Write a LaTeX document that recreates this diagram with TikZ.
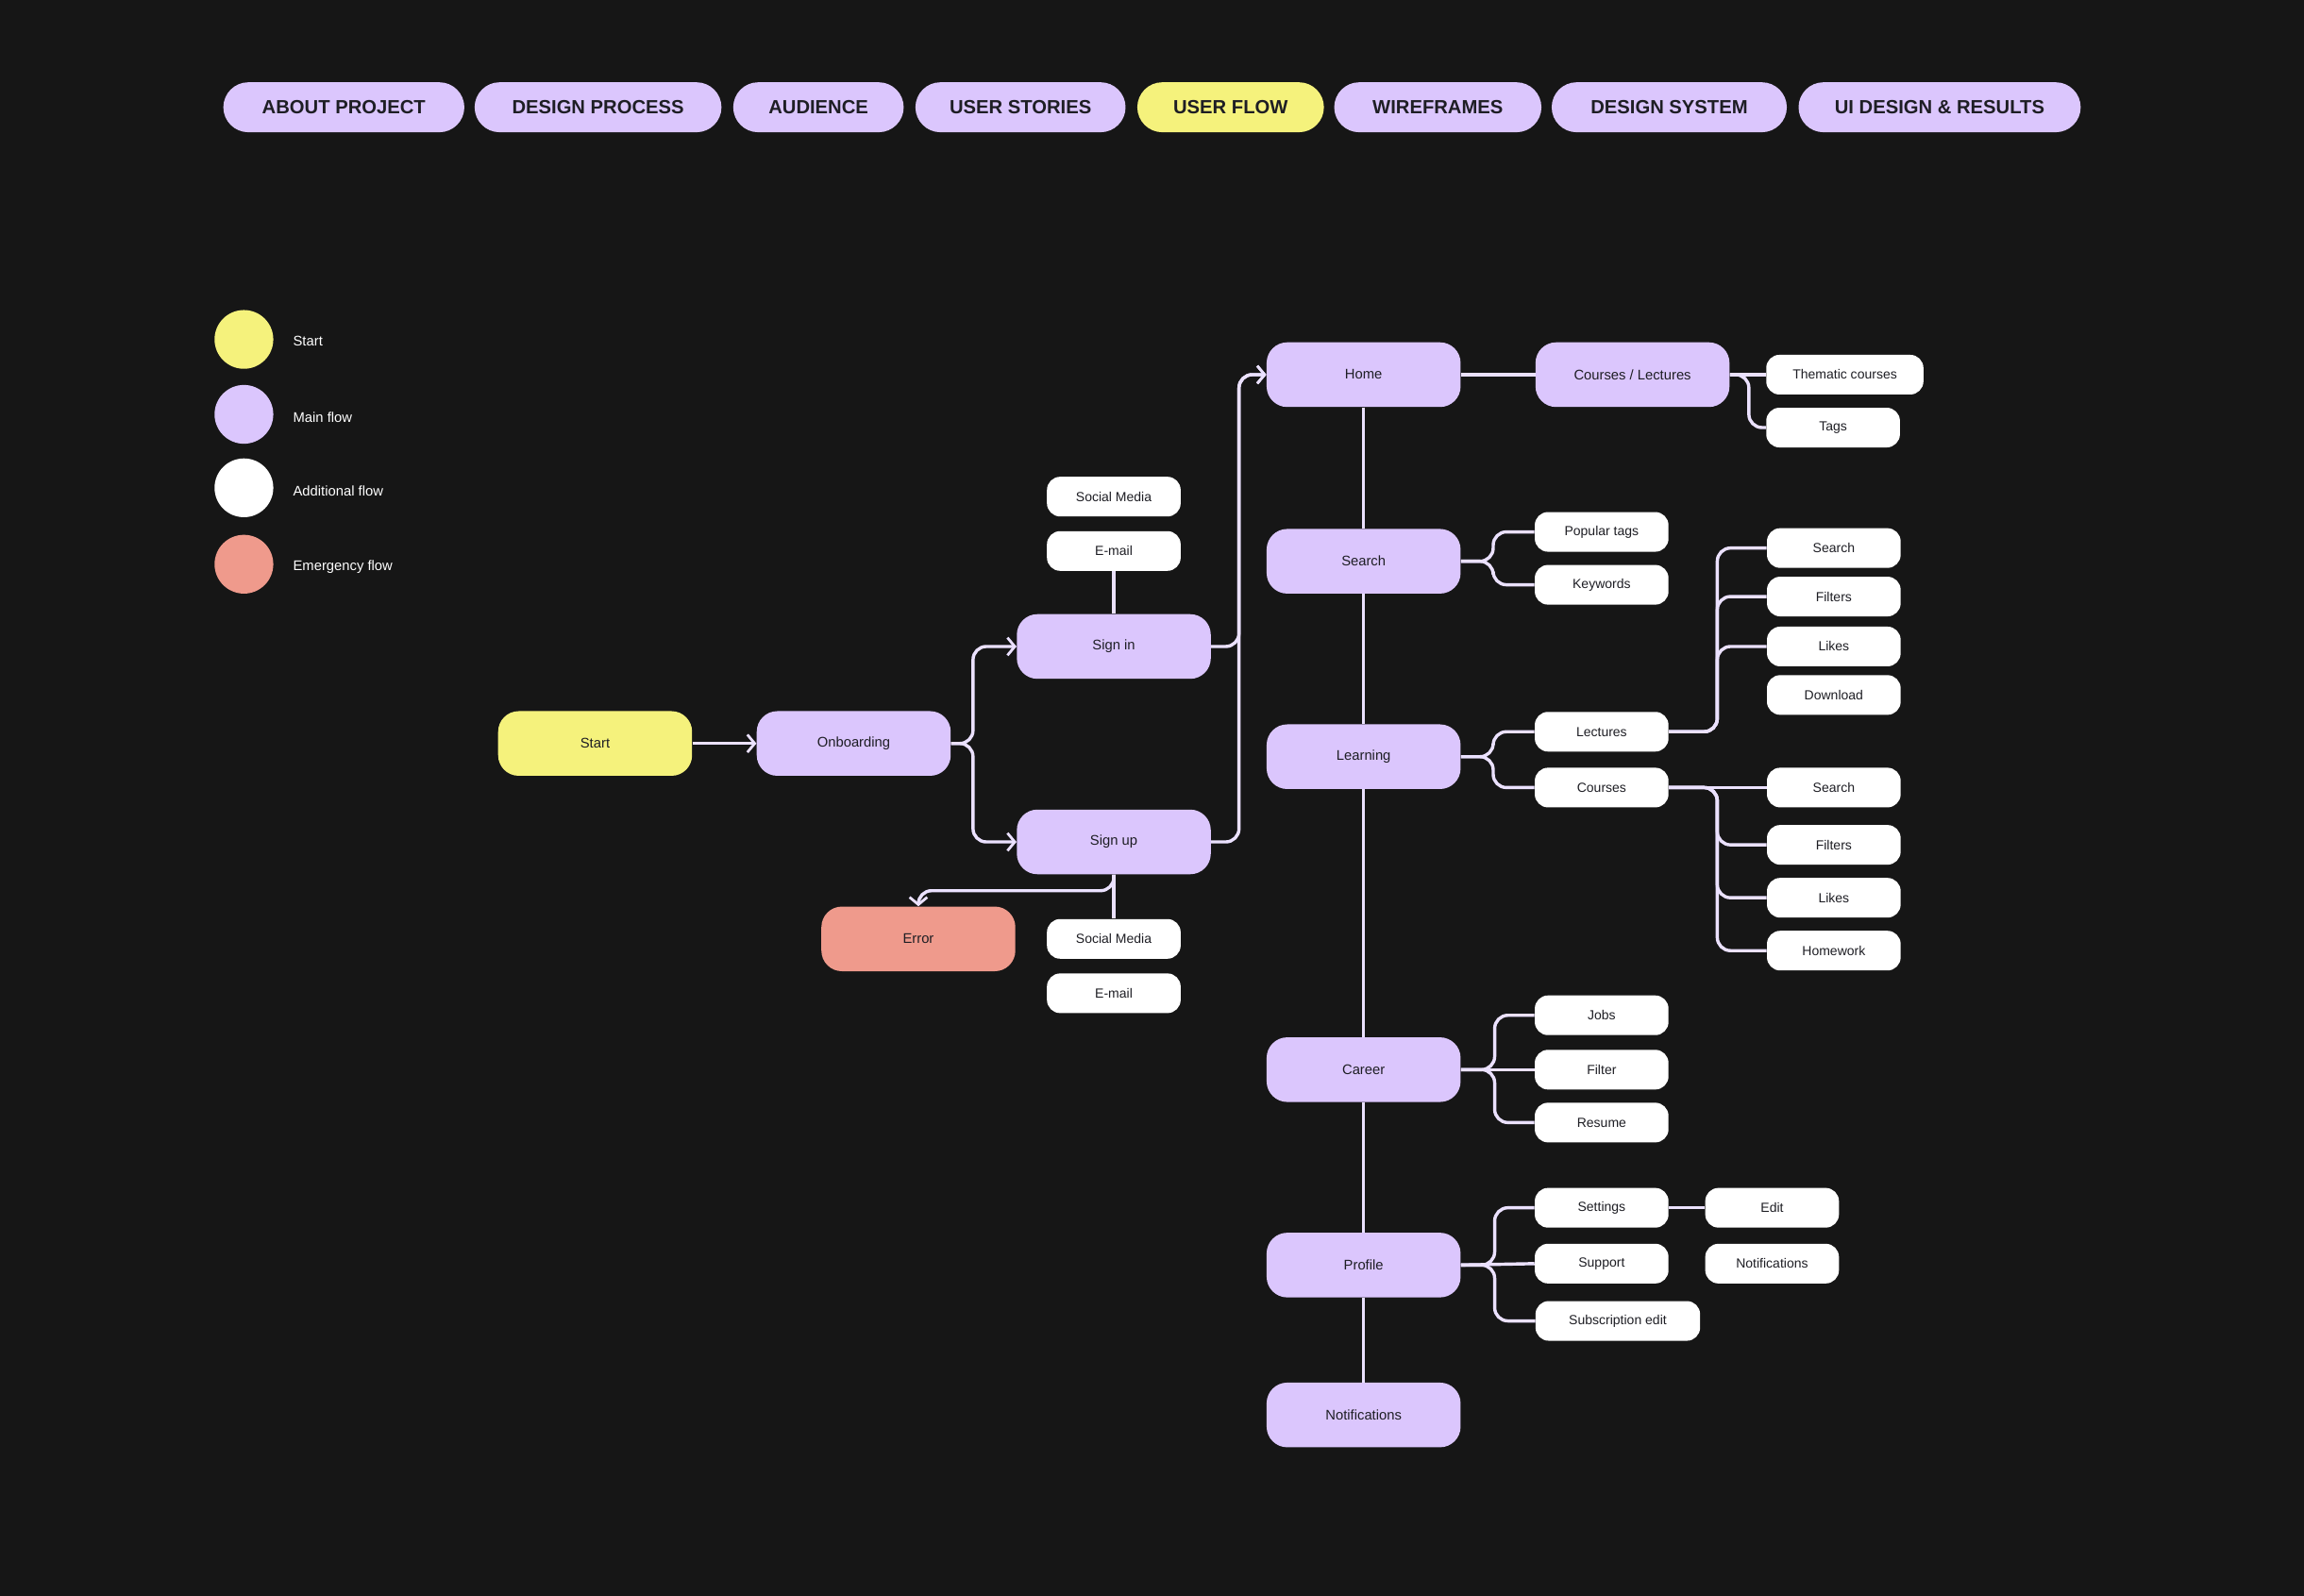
\documentclass[tikz,border=0pt]{standalone}
\usepackage{fontspec}
\setmainfont{Liberation Sans}
\usetikzlibrary{arrows.meta}
\definecolor{bg}{HTML}{161616}
\definecolor{lav}{HTML}{DBC6FD}
\definecolor{yel}{HTML}{F5F27C}
\definecolor{sal}{HTML}{EF9A8C}
\definecolor{txt}{HTML}{1E1E24}
\definecolor{ln}{HTML}{EBE1FF}
\begin{document}
\begin{tikzpicture}[x=1pt,y=-1pt,
 mainbox/.style={rounded corners=14pt, minimum width=132pt, minimum height=44pt, fill=lav, text=txt, font=\fontsize{9.5}{11}\selectfont, inner sep=0pt},
 subbox/.style={rounded corners=9pt, minimum width=91pt, minimum height=27pt, fill=white, text=txt, font=\fontsize{9}{10}\selectfont, inner sep=0pt},
 navbox/.style={rounded corners=17pt, minimum height=34pt, fill=lav, text=txt, font=\fontsize{13}{15}\selectfont\bfseries, inner sep=0pt},
 legdot/.style={circle, minimum size=40pt, inner sep=0pt},
 leglab/.style={anchor=west, text=white, font=\fontsize{9.5}{11}\selectfont},
 conn/.style={draw=ln, line width=2.2pt, rounded corners=9pt},
 arr/.style={-{Straight Barb[length=5pt,width=12pt,line width=1.8pt]}},
]
\fill[bg] (0,0) rectangle (1568,1086);
\useasboundingbox (0,0) rectangle (1568,1086);

% navigation
\node[navbox, minimum width=164pt] (n1) at (234,73) {ABOUT PROJECT};
\node[navbox, minimum width=168pt] (n2) at (407,73) {DESIGN PROCESS};
\node[navbox, minimum width=116pt] (n3) at (557,73) {AUDIENCE};
\node[navbox, minimum width=143pt] (n4) at (694.5,73) {USER STORIES};
\node[navbox, minimum width=127pt, fill=yel] (n5) at (837.5,73) {USER FLOW};
\node[navbox, minimum width=141pt] (n6) at (978.5,73) {WIREFRAMES};
\node[navbox, minimum width=160pt] (n7) at (1136,73) {DESIGN SYSTEM};
\node[navbox, minimum width=192pt] (n8) at (1320,73) {UI DESIGN \& RESULTS};

% legend
\node[legdot, fill=yel] (l1) at (166,231) {};
\node[legdot, fill=lav] (l2) at (166,282) {};
\node[legdot, fill=white] (l3) at (166,332) {};
\node[legdot, fill=sal] (l4) at (166,384) {};
\node[leglab] (t1) at (196,232) {Start};
\node[leglab] (t2) at (196,284) {Main flow};
\node[leglab] (t3) at (196,334) {Additional flow};
\node[leglab] (t4) at (196,386) {Emergency flow};

% main nodes
\node[mainbox, fill=yel] (start) at (405,506) {Start};
\node[mainbox] (onb) at (581,506) {Onboarding};
\node[mainbox] (signin) at (758,440) {Sign in};
\node[mainbox] (signup) at (758,573) {Sign up};
\node[mainbox, fill=sal] (error) at (625,639) {Error};
\node[subbox] (sm1) at (758,338) {Social Media};
\node[subbox] (em1) at (758,375) {E-mail};
\node[subbox] (sm2) at (758,639) {Social Media};
\node[subbox] (em2) at (758,676) {E-mail};

\node[mainbox] (home) at (928,255) {Home};
\node[mainbox] (cl) at (1111,255) {Courses / Lectures};
\node[subbox, minimum width=107pt] (them) at (1255.5,255) {Thematic courses};
\node[subbox] (tags) at (1247.5,291) {Tags};

\node[mainbox] (search) at (928,382) {Search};
\node[subbox] (pop) at (1090,362) {Popular tags};
\node[subbox] (key) at (1090,398) {Keywords};

\node[mainbox] (learn) at (928,515) {Learning};
\node[subbox] (lect) at (1090,498) {Lectures};
\node[subbox] (cour) at (1090,536) {Courses};
\node[subbox] (ls1) at (1248,373) {Search};
\node[subbox] (ls2) at (1248,406) {Filters};
\node[subbox] (ls3) at (1248,440) {Likes};
\node[subbox] (ls4) at (1248,473) {Download};
\node[subbox] (cs1) at (1248,536) {Search};
\node[subbox] (cs2) at (1248,575) {Filters};
\node[subbox] (cs3) at (1248,611) {Likes};
\node[subbox] (cs4) at (1248,647) {Homework};

\node[mainbox] (career) at (928,728) {Career};
\node[subbox] (jobs) at (1090,691) {Jobs};
\node[subbox] (filt) at (1090,728) {Filter};
\node[subbox] (res) at (1090,764) {Resume};

\node[mainbox] (prof) at (928,861) {Profile};
\node[subbox] (sett) at (1090,822) {Settings};
\node[subbox] (supp) at (1090,860) {Support};
\node[subbox, minimum width=112pt] (subs) at (1101,899) {Subscription edit};
\node[subbox] (edit) at (1206,822) {Edit};
\node[subbox] (notis) at (1206,860) {Notifications};

\node[mainbox] (notif) at (928,963) {Notifications};

% connectors
\draw[conn, arr] (start) -- (onb);
\draw[conn, arr] (onb.east) -- ++(15,0) |- (signin.west);
\draw[conn, arr] (onb.east) -- ++(15,0) |- (signup.west);
\draw[conn, arr] (signin.east) -- ++(19,0) |- (home.west);
\draw[conn, arr] (signup.east) -- ++(19,0) |- (home.west);
\draw[conn] (signin.north) -- (em1.south);
\draw[conn] (signup.south) -- (sm2.north);
\draw[conn, arr] (signup.south) -- ++(0,11) -| (error.north);

\draw[conn] (home) -- (cl);
\draw[conn] (home.south) -- (search.north);
\draw[conn] (search.south) -- (learn.north);
\draw[conn] (learn.south) -- (career.north);
\draw[conn] (career.south) -- (prof.north);
\draw[conn] (prof.south) -- (notif.north);

\draw[conn] (cl.east) -- (them.west);
\draw[conn] (cl.east) -- ++(13,0) |- (tags.west);

\draw[conn] (search.east) -- ++(22,0) |- (pop.west);
\draw[conn] (search.east) -- ++(22,0) |- (key.west);

\draw[conn] (learn.east) -- ++(22,0) |- (lect.west);
\draw[conn] (learn.east) -- ++(22,0) |- (cour.west);

\draw[conn] (lect.east) -- ++(33,0) |- (ls1.west);
\draw[conn] (lect.east) -- ++(33,0) |- (ls2.west);
\draw[conn] (lect.east) -- ++(33,0) |- (ls3.west);

\draw[conn] (cour.east) -- (cs1.west);
\draw[conn] (cour.east) -- ++(33,0) |- (cs2.west);
\draw[conn] (cour.east) -- ++(33,0) |- (cs3.west);
\draw[conn] (cour.east) -- ++(33,0) |- (cs4.west);

\draw[conn] (career.east) -- ++(23,0) |- (jobs.west);
\draw[conn] (career.east) -- (filt.west);
\draw[conn] (career.east) -- ++(23,0) |- (res.west);

\draw[conn] (prof.east) -- ++(23,0) |- (sett.west);
\draw[conn] (prof.east) -- (supp.west);
\draw[conn] (prof.east) -- ++(23,0) |- (subs.west);
\draw[conn] (sett.east) -- (edit.west);
\end{tikzpicture}
\end{document}
